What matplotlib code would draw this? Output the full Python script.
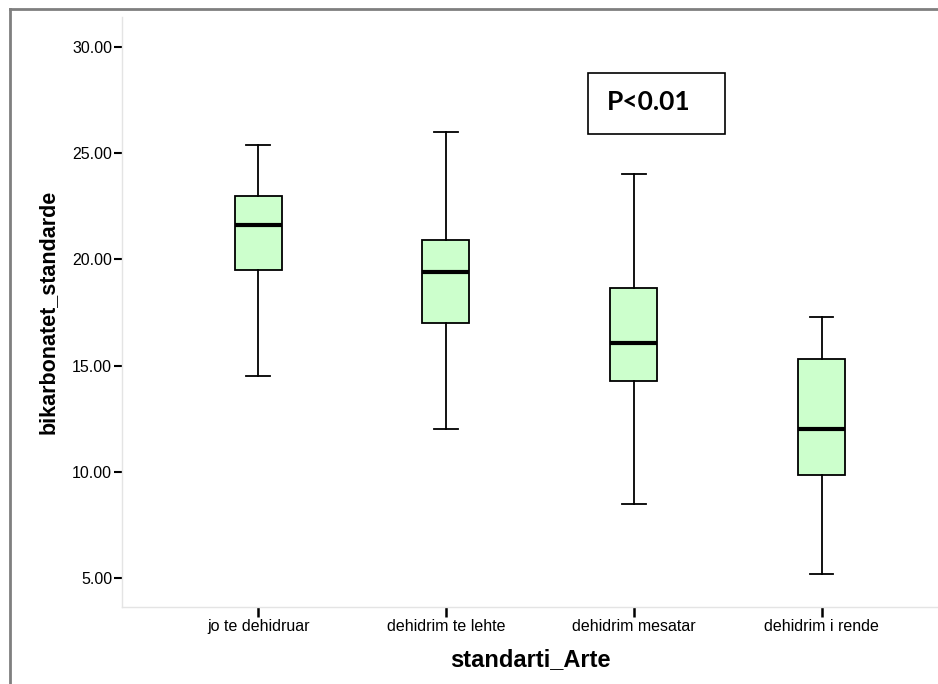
import matplotlib.pyplot as plt
from matplotlib.lines import Line2D
from matplotlib.patches import Rectangle

plt.rcParams['font.family'] = ['Liberation Sans', 'DejaVu Sans']

# Grupet dhe statistikat e boxplot-it
grupet = ["jo te dehidruar", "dehidrim te lehte", "dehidrim mesatar", "dehidrim i rende"]
whis_min = [14.5, 12.0, 8.5, 5.17]
q1 = [19.5, 17.0, 14.28, 9.86]
mediana = [21.6, 19.4, 16.06, 12.02]
q3 = [23.0, 20.9, 18.65, 15.3]
whis_max = [25.4, 26.0, 24.0, 17.3]
yticks = [5, 10, 15, 20, 25, 30]

stats = []
for g, lo, a, m, b, hi in zip(grupet, whis_min, q1, mediana, q3, whis_max):
    stats.append({'label': g, 'whislo': lo, 'q1': a, 'med': m, 'q3': b, 'whishi': hi, 'fliers': []})

fig = plt.figure(figsize=(9.38, 6.84), dpi=100)
ax = fig.add_axes([0.130, 0.1126, 0.870, 0.8625])

ax.bxp(stats, positions=range(len(grupet)), widths=0.25, patch_artist=True,
       boxprops=dict(facecolor='#ccffcc', edgecolor='black', linewidth=1.3),
       medianprops=dict(color='black', linewidth=3),
       whiskerprops=dict(color='black', linewidth=1.3),
       capprops=dict(color='black', linewidth=1.3),
       capwidths=0.126)

ax.set_xlim(-0.725, 3.62)
ax.set_ylim(3.63, 31.41)
ax.set_yticks(yticks)
ax.set_yticklabels([f"{v:.2f}" for v in yticks])
ax.set_xticks(range(len(grupet)))
ax.set_xticklabels(grupet)

ax.tick_params(axis='y', direction='out', length=6, width=1.5, color='black', labelsize=11.5, pad=1)
ax.tick_params(axis='x', direction='out', length=7, width=1.8, color='black', labelsize=11.5, pad=2)

for s in ['top', 'right']:
    ax.spines[s].set_visible(False)
for s in ['left', 'bottom']:
    ax.spines[s].set_color('#e4e4e4')
    ax.spines[s].set_linewidth(1)

ax.set_ylabel("bikarbonatet_standarde", fontsize=15.5, fontweight='bold', labelpad=10)
ax.set_xlabel("standarti_Arte", fontsize=17, fontweight='bold', labelpad=10)

# Kutia me vleren p
fig.add_artist(Rectangle((588 / 938, 1 - 134 / 684), 137 / 938, 61 / 684, transform=fig.transFigure,
                         facecolor='white', edgecolor='black', linewidth=1.2))
fig.text(0.692, 0.851, "P<0.01", fontsize=19, fontweight='bold', family=['Lato', 'DejaVu Sans'],
         ha='center', va='center')

# Korniza gri rreth figures
fig.add_artist(Line2D([10 / 938, 10 / 938], [0, 1 - 9 / 684], transform=fig.transFigure,
                      color='#7f7f7f', linewidth=2))
fig.add_artist(Line2D([10 / 938, 1], [1 - 9 / 684, 1 - 9 / 684], transform=fig.transFigure,
                      color='#7f7f7f', linewidth=2))

fig.savefig('out.png', dpi=100)
